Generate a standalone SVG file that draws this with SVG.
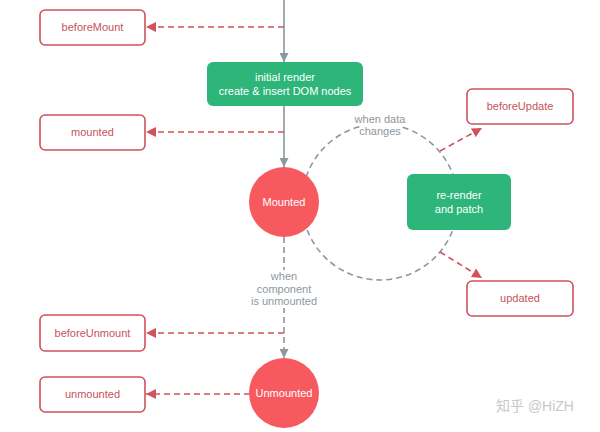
<svg xmlns="http://www.w3.org/2000/svg" width="600" height="432" viewBox="0 0 600 432">
<defs>
<style>
.hook rect{fill:#fff;stroke:#d0525b;stroke-width:1.6}
.hook text{fill:#c9515a;font-family:"Liberation Sans",Arial,sans-serif;font-size:11px;text-anchor:middle}
.green rect{fill:#2db57a}
.wt{fill:#fff;font-family:"Liberation Sans",Arial,sans-serif;font-size:11px;text-anchor:middle}
.state circle{fill:#f65a5f}
.lbl{fill:#8e979d;font-family:"Liberation Sans",Arial,sans-serif;font-size:11px;text-anchor:middle}
.gline{stroke:#8c979e;stroke-width:1.6;fill:none}
.gdash{stroke:#8c979e;stroke-width:1.6;fill:none;stroke-dasharray:6 4}
.rdash{stroke:#d0525b;stroke-width:1.6;fill:none;stroke-dasharray:6 4}
</style>
<marker id="ag" viewBox="0 0 10 10" refX="10" refY="5" markerWidth="9" markerHeight="9" markerUnits="userSpaceOnUse" orient="auto"><path d="M0,0 L10,5 L0,10 z" fill="#8c979e"/></marker>
<marker id="ar" viewBox="0 0 10 10" refX="10" refY="5" markerWidth="10" markerHeight="10" markerUnits="userSpaceOnUse" orient="auto"><path d="M0,0 L10,5 L0,10 z" fill="#d0525b"/></marker>
</defs>
<rect width="600" height="432" fill="#fff"/>
<g id="connectors">
<circle cx="380" cy="202" r="78" class="gdash"/>
<line x1="284" y1="0" x2="284" y2="62" class="gline" marker-end="url(#ag)"/>
<line x1="284" y1="106" x2="284" y2="167" class="gline" marker-end="url(#ag)"/>
<line x1="284" y1="237" x2="284" y2="358" class="gdash" marker-end="url(#ag)"/>
<path d="M284,27 H146" class="rdash" marker-end="url(#ar)"/>
<path d="M284,132 H146" class="rdash" marker-end="url(#ar)"/>
<path d="M284,333 H146" class="rdash" marker-end="url(#ar)"/>
<path d="M250,394 H146" class="rdash" marker-end="url(#ar)"/>
<path d="M440,151 L482,128" class="rdash" marker-end="url(#ar)"/>
<path d="M440,252 L482,278" class="rdash" marker-end="url(#ar)"/>
<rect x="354" y="113" width="52" height="12" fill="#fff"/>
<rect x="360" y="125" width="40" height="11" fill="#fff"/>
<text class="lbl" x="380" y="123">when data</text>
<text class="lbl" x="380" y="135">changes</text>
<rect x="250" y="270" width="68" height="38" fill="#fff"/>
<text class="lbl" x="284" y="280">when</text>
<text class="lbl" x="284" y="293">component</text>
<text class="lbl" x="284" y="305">is unmounted</text>
</g>
<g id="beforeMount" class="hook"><rect x="40" y="10" width="105" height="35" rx="5"/><text x="92.5" y="31">beforeMount</text></g>
<g id="mounted" class="hook"><rect x="40" y="115" width="105" height="35" rx="5"/><text x="92.5" y="136">mounted</text></g>
<g id="beforeUnmount" class="hook"><rect x="40" y="315" width="105" height="36" rx="5"/><text x="92.5" y="337">beforeUnmount</text></g>
<g id="unmounted" class="hook"><rect x="40" y="377" width="105" height="35" rx="5"/><text x="92.5" y="398">unmounted</text></g>
<g id="beforeUpdate" class="hook"><rect x="467" y="89" width="106" height="35" rx="5"/><text x="520" y="110">beforeUpdate</text></g>
<g id="updated" class="hook"><rect x="467" y="281" width="106" height="35" rx="5"/><text x="520" y="302">updated</text></g>
<g id="initialRender" class="green"><rect x="207" y="62" width="156" height="44" rx="6"/><text class="wt" x="285" y="81">initial render</text><text class="wt" x="285" y="95">create &amp; insert DOM nodes</text></g>
<g id="rerender" class="green"><rect x="407" y="174" width="104" height="56" rx="6"/><text class="wt" x="459" y="199">re-render</text><text class="wt" x="459" y="213">and patch</text></g>
<g id="Mounted" class="state"><circle cx="284" cy="202" r="35"/><text class="wt" x="284" y="206">Mounted</text></g>
<g id="Unmounted" class="state"><circle cx="284" cy="393" r="35"/><text class="wt" x="284" y="397">Unmounted</text></g>
<text x="535" y="411" fill="#c8c8c8" font-family="'Liberation Sans','Noto Sans CJK SC',sans-serif" font-size="14" text-anchor="middle">知乎 @HiZH</text>
</svg>
